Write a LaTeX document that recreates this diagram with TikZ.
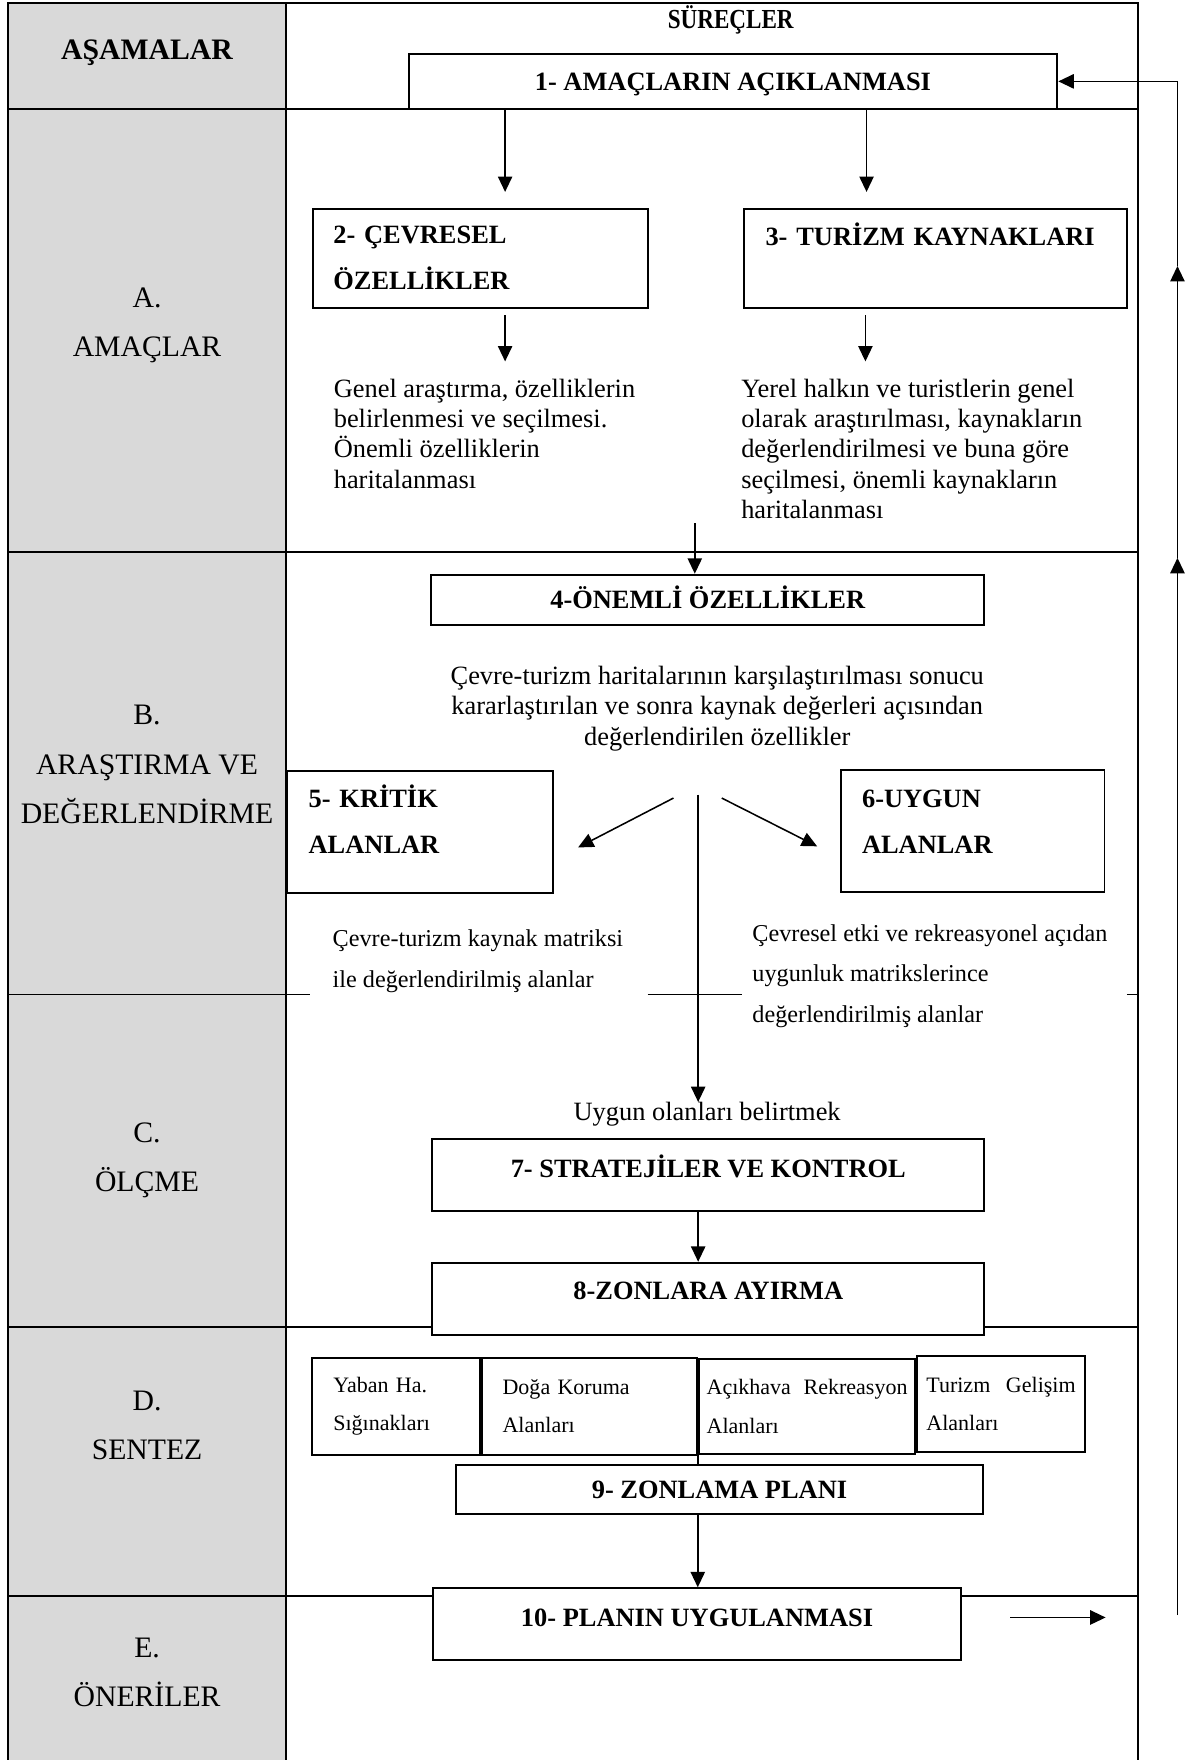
\documentclass[tikz,border=0pt]{standalone}
\usepackage{fontspec}
\setmainfont{Liberation Serif}
\newfontfamily\narrowfont{Liberation Serif}[FakeStretch=0.84]
\usetikzlibrary{positioning,arrows.meta}
\definecolor{stagegray}{RGB}{217,217,217}
\newlength\ux
\setlength\ux{0.51pt}

\begin{document}
\begin{tikzpicture}[x=0.51pt, y=-0.51pt,
  tbl/.style={line width=0.9pt},
  box/.style={draw, rectangle, line width=0.9pt, fill=white, inner sep=0pt,
    font=\fontsize{12}{21}\selectfont\bfseries},
  lift/.style={text height=9pt, text depth=#1},
  zone/.style={draw, rectangle, line width=0.9pt, fill=white, inner sep=0pt,
    align=left, font=\fontsize{10}{17.3}\selectfont},
  txt/.style={inner sep=0pt, align=left, font=\fontsize{12}{13.8}\selectfont},
  stxt/.style={inner sep=0pt, align=left, font=\fontsize{11}{18.6}\selectfont},
  stage/.style={inner sep=0pt, align=center, font=\fontsize{13.5}{22.4}\selectfont},
  arr/.style={->, >={Stealth[length=7pt,width=6.5pt,inset=0pt]}, line width=0.7pt}]
\useasboundingbox (0,0) rectangle (1064,1568);

\fill[stagegray] (7,3) rectangle (255,1568);
\draw[tbl] (7,1568) -- (7,3) -- (1014,3) -- (1014,1568);
\draw[tbl] (255,3) -- (255,1568);
\draw[tbl] (7,97) -- (1014,97);
\draw[tbl] (7,492) -- (1014,492);
\draw[tbl] (7,886) -- (276,886);
\draw[tbl] (577,886) -- (661,886);
\draw[tbl] (1004,886) -- (1014,886);
\draw[tbl] (7,1182) -- (1014,1182);
\draw[tbl] (7,1422) -- (1014,1422);

\node[inner sep=0pt, font=\fontsize{13.5}{16}\selectfont\bfseries, text height=8.9pt, text depth=0pt] (hstage) at (131,44) {AŞAMALAR};
\node[inner sep=0pt, font=\fontsize{12.5}{14}\selectfont\bfseries\narrowfont, text height=8.2pt, text depth=0pt] (hproc) at (651,17) {SÜREÇLER};

\node[stage, anchor=north] (sa) at (131,256) {A.\\AMAÇLAR};
\node[stage, anchor=north] (sb) at (131,628) {B.\\ARAŞTIRMA VE\\DEĞERLENDİRME};
\node[stage, anchor=north] (sc) at (131,1000) {C.\\ÖLÇME};
\node[stage, anchor=north] (sd) at (131,1239) {D.\\SENTEZ};
\node[stage, anchor=north] (se) at (131,1459) {E.\\ÖNERİLER};

\node[box, lift=1pt, minimum width=578\ux, minimum height=49\ux] (n1) at (653,72.5) {1- AMAÇLARIN AÇIKLANMASI};
\node[box, minimum width=298\ux, minimum height=88\ux, inner xsep=18\ux, text width=262\ux, align=left] (n2) at (428,230) {2- ÇEVRESEL\\ÖZELLİKLER};
\node[box, lift=20.5pt, minimum width=341\ux, minimum height=88\ux, inner xsep=19\ux, text width=303\ux, align=left] (n3) at (833.5,230) {3- TURİZM KAYNAKLARI};

\node[txt, anchor=north west] (t2) at (297,337) {Genel araştırma, özelliklerin\\belirlenmesi ve seçilmesi.\\Önemli özelliklerin\\haritalanması};
\node[txt, anchor=north west] (t3) at (660,337) {Yerel halkın ve turistlerin genel\\olarak araştırılması, kaynakların\\değerlendirilmesi ve buna göre\\seçilmesi, önemli kaynakların\\haritalanması};

\node[box, lift=1pt, minimum width=493\ux, minimum height=45\ux] (n4) at (630.5,534.5) {4-ÖNEMLİ ÖZELLİKLER};
\node[txt, align=center, anchor=north] (t4) at (639,593) {Çevre-turizm haritalarının karşılaştırılması sonucu\\kararlaştırılan ve sonra kaynak değerleri açısından\\değerlendirilen özellikler};

\node[box, lift=31.8pt, minimum width=237\ux, minimum height=109\ux, inner xsep=19\ux, text width=199\ux, align=left] (n5) at (374.5,741.5) {5- KRİTİK\\ALANLAR};
\node[box, lift=30.7pt, minimum width=235\ux, minimum height=109\ux, inner xsep=19\ux, text width=197\ux, align=left] (n6) at (866.5,740.5) {6-UYGUN\\ALANLAR};
\node[stxt, anchor=north west] (t5) at (296,828) {Çevre-turizm kaynak matriksi\\ile değerlendirilmiş alanlar};
\node[stxt, anchor=north west] (t6) at (670,823) {Çevresel etki ve rekreasyonel açıdan\\uygunluk matrikslerince\\değerlendirilmiş alanlar};

\node[txt, anchor=base] (tu) at (630,998.5) {Uygun olanları belirtmek};
\node[box, lift=7.2pt, minimum width=492\ux, minimum height=64\ux] (n7) at (631,1047) {7- STRATEJİLER VE KONTROL};
\node[box, lift=8.2pt, minimum width=492\ux, minimum height=64\ux] (n8) at (631,1157) {8-ZONLARA AYIRMA};

\node[zone, minimum width=150\ux, minimum height=86\ux, inner xsep=19\ux, text width=112\ux] (s1) at (353,1253) {Yaban Ha.\\Sığınakları};
\node[zone, minimum width=191\ux, minimum height=87\ux, inner xsep=18\ux, text width=155\ux, right=0pt of s1] (s2) {Doğa Koruma\\Alanları};
\node[zone, minimum width=193\ux, minimum height=84\ux, inner xsep=7\ux, text width=179\ux, right=0pt of s2] (s3) {Açıkhava\hfill Rekreasyon\\Alanları};
\node[zone, minimum width=149\ux, minimum height=86\ux, inner xsep=8\ux, text width=133\ux, right=0pt of s3, yshift=2\ux] (s4) {Turizm\hfill Gelişim\\Alanları};
\node[box, lift=1pt, minimum width=470\ux, minimum height=44\ux] (n9) at (641,1327) {9- ZONLAMA PLANI};
\node[box, lift=7.2pt, minimum width=470\ux, minimum height=64\ux] (n10) at (621,1447) {10- PLANIN UYGULANMASI};

\coordinate (d2) at (450,171);
\coordinate (d3) at (772,171);
\draw[arr] (n1.south -| d2) -- (d2);
\draw[arr] (n1.south -| d3) -- (d3);
\coordinate (e2s) at (450,281);
\coordinate (e2) at (450,322);
\coordinate (e3s) at (771,281);
\coordinate (e3) at (771,322);
\draw[arr] (e2s) -- (e2);
\draw[arr] (e3s) -- (e3);
\coordinate (d4) at (619,466);
\draw[arr] (d4) -- (d4 |- n4.north);
\coordinate (fork) at (622,708);
\coordinate (k5a) at (600,711);
\coordinate (k5b) at (515,755);
\coordinate (k6a) at (643,711);
\coordinate (k6b) at (728,754);
\draw[arr] (k5a) -- (k5b);
\draw[arr] (k6a) -- (k6b);
\draw[arr] (fork) -- (fork |- tu.north);
\draw[arr] (n7.south -| fork) -- (n8.north -| fork);
\draw[line width=0.7pt] (s3.south west) -- (s3.south west |- n9.north);
\draw[arr] (n9.south -| s3.south west) -- (n10.north -| s3.south west);
\coordinate (outA) at (900,1441);
\coordinate (outB) at (985,1441);
\draw[arr] (outA) -- (outB);

\coordinate (fb0) at (1049,1439);
\coordinate (fb1) at (1049,497);
\coordinate (fb2) at (1049,237);
\draw[arr] (fb0) -- (fb1);
\draw[arr] (fb1) -- (fb2);
\draw[arr] (fb2) |- (n1.east);
\end{tikzpicture}
\end{document}
